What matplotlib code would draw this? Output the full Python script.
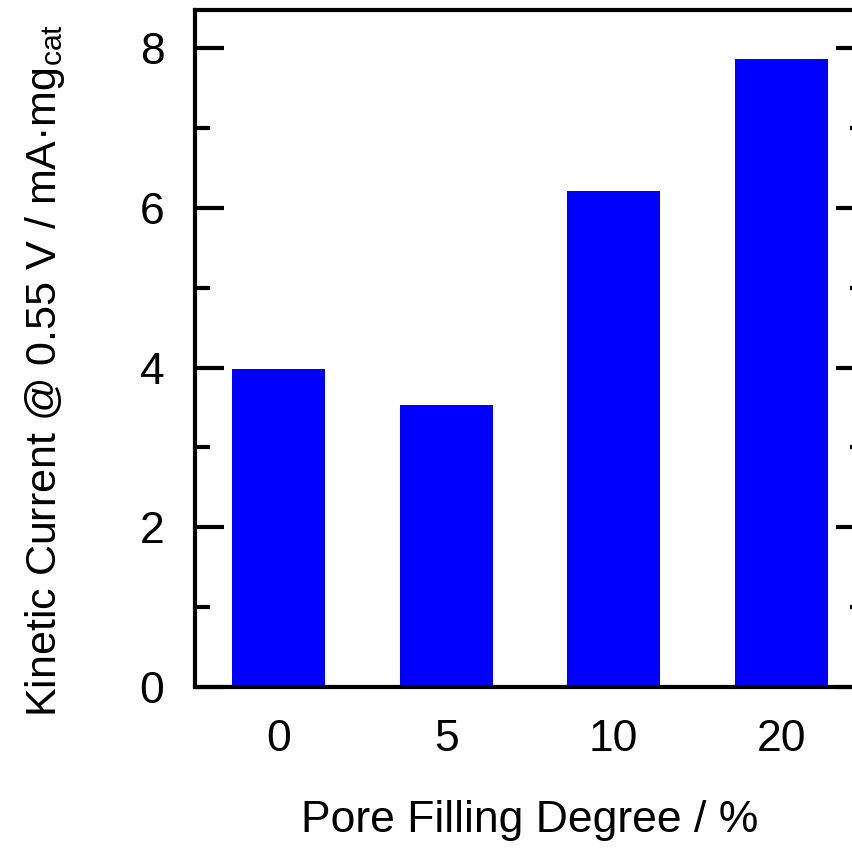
import matplotlib
matplotlib.use('Agg')
import matplotlib.pyplot as plt
from matplotlib.ticker import MultipleLocator

plt.rcParams['font.family'] = ['Liberation Sans', 'DejaVu Sans']
plt.rcParams['mathtext.fontset'] = 'custom'
plt.rcParams['mathtext.rm'] = 'Liberation Sans'
plt.rcParams['mathtext.it'] = 'Liberation Sans:italic'

# data
categories = ['0', '5', '10', '20']
kinetic_current = [3.98, 3.53, 6.21, 7.86]

W, H = 853, 848
fig = plt.figure(figsize=(W / 100, H / 100), dpi=100)
# axes runs past the right edge, like the cropped original
left, right, top, bottom = 195, 865, 10, 687
ax = fig.add_axes([left / W, (H - bottom) / H, (right - left) / W, (bottom - top) / H])

x = range(len(categories))
ax.bar(x, kinetic_current, width=0.555, color='#0000ff')

ax.set_xlim(-0.5, 3.5)
ax.set_ylim(0, 8.48)
ax.set_xticks(list(x))
ax.set_xticklabels(categories)
ax.yaxis.set_major_locator(MultipleLocator(2))
ax.yaxis.set_minor_locator(MultipleLocator(1))

for s in ax.spines.values():
    s.set_linewidth(3)

ax.tick_params(axis='y', which='both', direction='in', left=True, right=True, width=3, labelsize=32, pad=22)
ax.tick_params(axis='y', which='major', length=21)
ax.tick_params(axis='y', which='minor', length=11)
ax.tick_params(axis='x', length=0, labelsize=32, pad=23)

ax.set_xlabel('Pore Filling Degree / %', fontsize=32)
ax.set_ylabel(r'Kinetic Current @ 0.55 V / mA·mg$_{\mathrm{cat}}$', fontsize=31)
ax.yaxis.set_label_coords((67 - left) / (right - left), (bottom - 370) / (bottom - top))
ax.xaxis.set_label_coords(0.5, -(800 - bottom) / (bottom - top))

fig.savefig('out.png', dpi=100)
